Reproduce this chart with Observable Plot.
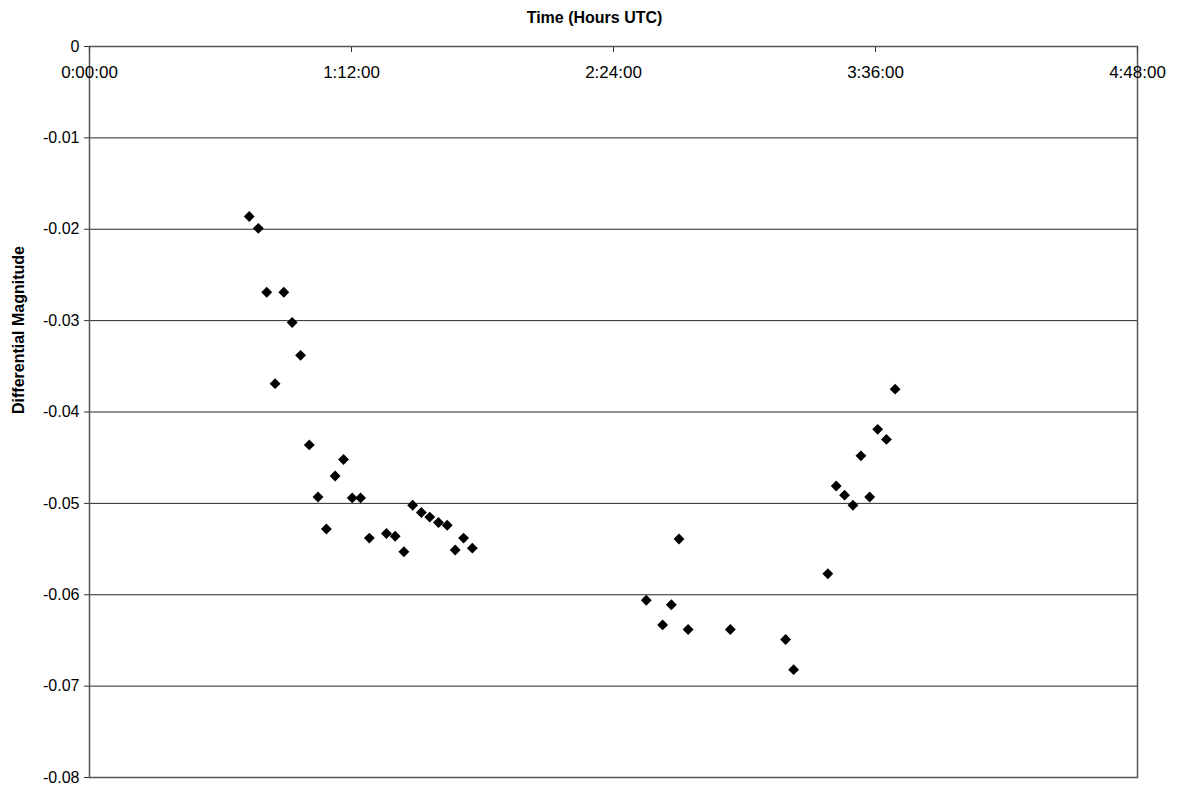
<!DOCTYPE html>
<html>
<head>
<meta charset="utf-8">
<script src="https://cdn.jsdelivr.net/npm/d3@7"></script>
<script src="https://cdn.jsdelivr.net/npm/@observablehq/plot@0.6"></script>
<style>
  html, body { margin: 0; padding: 0; background: #fff; }
  #chart { width: 1178px; height: 786px; }
</style>
</head>
<body>
<div id="chart"></div>
<script>
// Time since 0:00:00 UTC, in minutes
const timeMinutes = [
  43.9, 46.4, 48.7, 51.0, 53.4, 55.7, 58.0, 60.4, 62.8, 65.1,
  67.5, 69.8, 72.2, 74.5, 76.9, 81.6, 84.0, 86.4, 88.8, 91.2,
  93.5, 95.9, 98.3, 100.5, 102.8, 105.2,
  153.0, 157.5, 159.9, 162.0, 164.5, 176.1, 191.3, 193.5,
  202.9, 205.2, 207.5, 209.8, 212.0, 214.4, 216.6, 219.0, 221.4
];
const diffMagnitude = [
  -0.0186, -0.0199, -0.0269, -0.0369, -0.0269, -0.0302, -0.0338, -0.0436, -0.0493, -0.0528,
  -0.0470, -0.0452, -0.0494, -0.0494, -0.0538, -0.0533, -0.0536, -0.0553, -0.0502, -0.0510,
  -0.0515, -0.0521, -0.0524, -0.0551, -0.0538, -0.0549,
  -0.0606, -0.0633, -0.0611, -0.0539, -0.0638, -0.0638, -0.0649, -0.0682,
  -0.0577, -0.0481, -0.0491, -0.0502, -0.0448, -0.0493, -0.0419, -0.0430, -0.0375
];
const xTickValues = [0, 72, 144, 216, 288];
const xTickLabels = ["0:00:00", "1:12:00", "2:24:00", "3:36:00", "4:48:00"];
const yTickValues = [0, -0.01, -0.02, -0.03, -0.04, -0.05, -0.06, -0.07, -0.08];
const yTickLabels = ["0", "-0.01", "-0.02", "-0.03", "-0.04", "-0.05", "-0.06", "-0.07", "-0.08"];
const xTitle = "Time (Hours UTC)";
const yTitle = "Differential Magnitude";

const data = timeMinutes.map((t, i) => ({t, m: diffMagnitude[i]}));
const font = "Arial, 'Liberation Sans', Helvetica, sans-serif";

const chart = Plot.plot({
  width: 1178,
  height: 786,
  marginLeft: 89,
  marginRight: 41,
  marginTop: 46,
  marginBottom: 9,
  style: {fontFamily: font, fontSize: "16px", color: "#000", background: "#fff"},
  x: {domain: [0, 288], axis: null},
  y: {domain: [-0.08, 0], axis: null},
  marks: [
    Plot.gridY(yTickValues, {stroke: "#000", strokeOpacity: 0.85, strokeWidth: 1}),
    Plot.frame({stroke: "#555", strokeWidth: 1.5}),
    Plot.axisY(yTickValues, {
      anchor: "left", tickSize: 5, tickPadding: 5, label: null,
      tickFormat: (d, i) => yTickLabels[i], fontSize: 16, stroke: "#333"
    }),
    Plot.axisX(xTickValues, {
      anchor: "top", tickSize: 5, dy: 5, label: null, fill: "none", stroke: "#333",
      tickFormat: () => ""
    }),
    Plot.text(xTickValues, {
      x: d => d, text: (d, i) => xTickLabels[i], frameAnchor: "top", lineAnchor: "middle", dy: 26,
      fontSize: 17, fill: "#000"
    }),
    Plot.text([xTitle], {
      text: d => d, frameAnchor: "top", lineAnchor: "middle", dy: -29, dx: -19,
      fontSize: 16, fontWeight: "bold", fill: "#000"
    }),
    Plot.text([yTitle], {
      text: d => d, frameAnchor: "left", lineAnchor: "middle", dx: -71, dy: 2, rotate: -90,
      fontSize: 16, fontWeight: "bold", fill: "#000"
    }),
    Plot.dot(data, {x: "t", y: "m", symbol: "diamond2", r: 4.9, fill: "#000", stroke: "none"})
  ]
});
document.getElementById("chart").appendChild(chart);
</script>
</body>
</html>
